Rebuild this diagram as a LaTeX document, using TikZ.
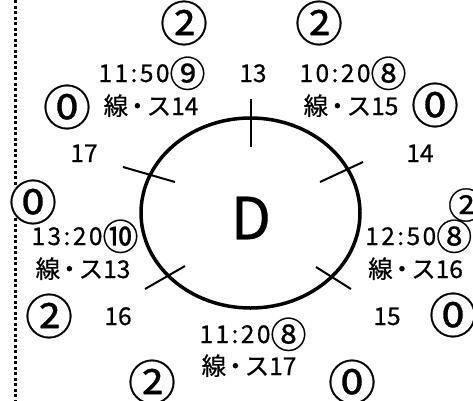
\documentclass[tikz,border=0pt]{standalone}
\usepackage{fontspec}
\setmainfont{Noto Sans CJK JP}[FakeBold=0.6]
\newfontfamily\timefont{Noto Sans CJK JP}[LetterSpace=10, FakeBold=0.6]
\newcommand\cnum[1]{\raisebox{-5pt}{\fontsize{36}{36}\selectfont #1}}
\newcommand\sensu{線\kern-3pt・\kern-3ptス}
\tikzset{
  lbl/.style={font=\fontsize{24.5}{24.5}\selectfont, inner sep=0pt, anchor=base},
  tlbl/.style={font=\timefont\fontsize{24.5}{24.5}\selectfont, inner sep=0pt, anchor=base},
  circnum/.style={font=\fontsize{48}{48}\selectfont, inner sep=0pt},
  tickline/.style={line width=2pt},
  edgedots/.style={line width=3pt, dash pattern=on 3pt off 2.5pt}
}

\begin{document}
\begin{tikzpicture}[x=1pt, y=-1pt]
		%%%%% START %%%%%
		\useasboundingbox (0,0) rectangle (473,400);
		\clip (0,0) rectangle (473,400);
		
		\draw[edgedots] (15,0) -- (15,187);
		\draw[edgedots] (15,218) -- (15,400);
		
		\draw[line width=3.5pt] (250.5,213) ellipse (109.5 and 95);
		\node[font=\fontsize{58}{58}\selectfont, inner sep=0pt] (d) at (251,218) {D};
		
		\draw[tickline] (251,99) -- (251,147);
		\draw[tickline] (320,182) -- (363,162);
		\draw[tickline] (316,267) -- (351,289);
		\draw[tickline] (123,167) -- (175,182);
		\draw[tickline] (145,289) -- (185,266);
		
		\node[circnum] (c2a) at (184,23) {②};
		\node[circnum] (c2b) at (319,23) {②};
		
		\node[tlbl] (t1150) at (152,82) {11:50\cnum{⑨}};
		\node[lbl] (n13) at (253,82) {13};
		\node[tlbl] (t1020) at (353,82) {10:20\cnum{⑧}};
		
		\node[circnum] (c0a) at (67,107) {⓪};
		\node[lbl] (s14) at (151,115) {\sensu14};
		\node[lbl] (s15) at (351,115) {\sensu15};
		\node[circnum] (c0b) at (435,105) {⓪};
		
		\node[lbl] (n17) at (84,162) {17};
		\node[lbl] (n14) at (420,162) {14};
		
		\node[circnum] (c0c) at (33,202) {⓪};
		\node[lbl, anchor=center, font=\fontsize{36}{36}\selectfont] (c2c) at (466,205) {②};
		
		\node[tlbl] (t1320) at (85,245) {13:20\cnum{⑩}};
		\node[lbl] (s13) at (83,278) {\sensu13};
		\node[tlbl, anchor=base west] (t1250) at (365,245) {12:50\cnum{⑧}};
		\node[lbl, anchor=base west] (s16) at (368,278) {\sensu16};
		
		\node[circnum] (c2d) at (49,316) {②};
		\node[lbl] (n16) at (118,325) {16};
		\node[lbl] (n15) at (387,325) {15};
		\node[circnum] (c0d) at (453,315) {⓪};
		
		\node[tlbl] (t1120) at (253,343) {11:20\cnum{⑧}};
		\node[lbl] (s17) at (249,375) {\sensu17};
		\node[circnum] (c2e) at (152,382) {②};
		\node[circnum] (c0e) at (352,382) {⓪};
		
		%%%%% END %%%%%
\end{tikzpicture}
\end{document}
